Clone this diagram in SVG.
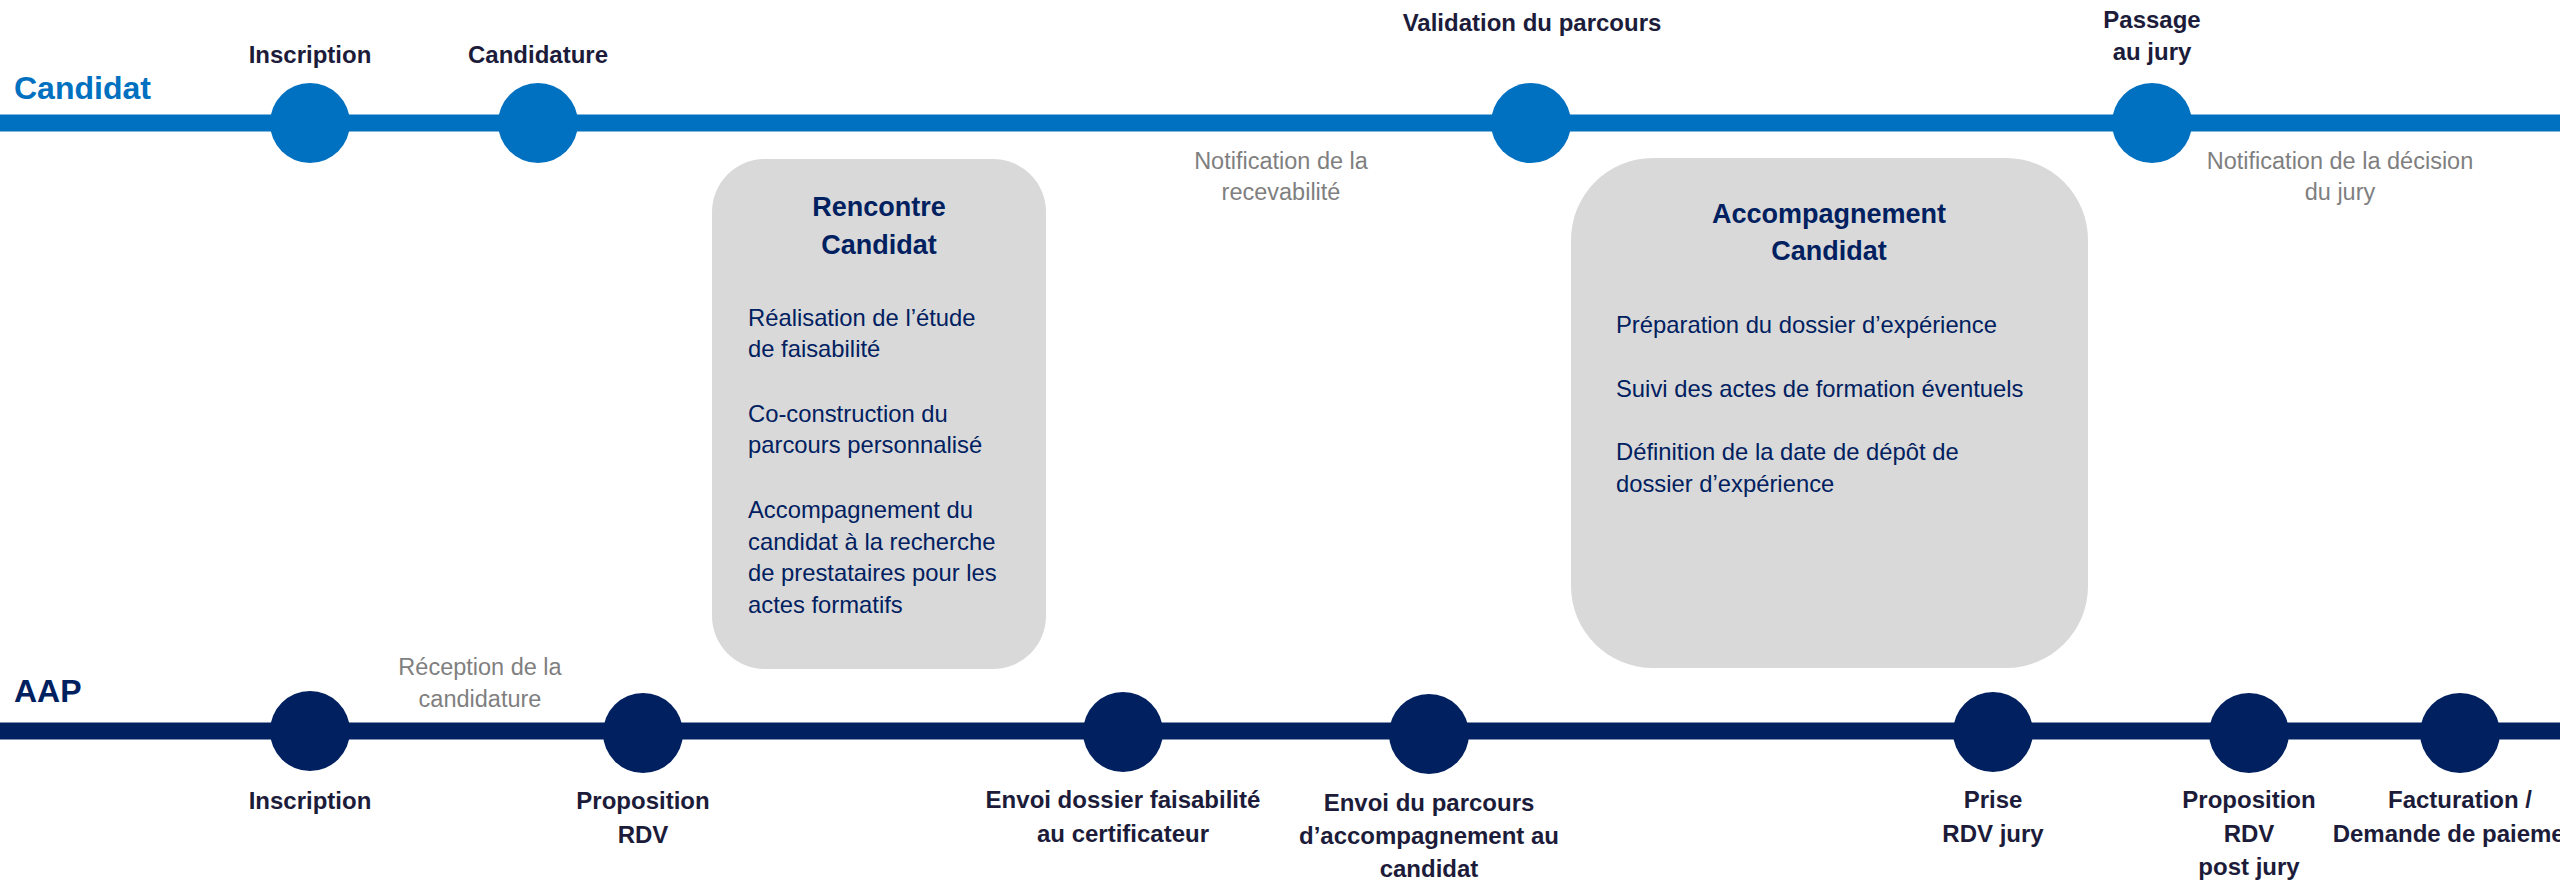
<svg xmlns="http://www.w3.org/2000/svg" width="2560" height="882" viewBox="0 0 2560 882">
<style>
  text { font-family: "Liberation Sans", Arial, sans-serif; }
  .lane { font-size: 32px; font-weight: bold; }
  .lbl { font-size: 24px; font-weight: bold; fill: #1c1c3a; text-anchor: middle; }
  .note { font-size: 23.5px; fill: #7f7f7f; text-anchor: middle; }
  .box { fill: #d9d9d9; }
  .btitle { font-size: 27px; font-weight: bold; fill: #002060; text-anchor: middle; }
  .body { font-size: 23.8px; fill: #002060; }
  .c1 { fill: #0070c0; }
  .c2 { fill: #002060; }
</style>
<rect width="2560" height="882" fill="#ffffff"/>

<g id="connectors">
  <line x1="0" y1="123" x2="2560" y2="123" stroke="#0070c0" stroke-width="17"/>
  <line x1="0" y1="731" x2="2560" y2="731" stroke="#002060" stroke-width="17"/>
</g>

<g id="lane-candidat"><text class="lane" x="14" y="99" fill="#0070c0">Candidat</text></g>
<g id="lane-aap"><text class="lane" x="14" y="702" fill="#002060">AAP</text></g>

<g id="c-inscription">
  <circle class="c1" cx="310" cy="123" r="40"/>
  <text class="lbl" x="310" y="63">Inscription</text>
</g>
<g id="c-candidature">
  <circle class="c1" cx="538" cy="123" r="40"/>
  <text class="lbl" x="538" y="63">Candidature</text>
</g>
<g id="c-validation">
  <circle class="c1" cx="1531" cy="123" r="40"/>
  <text class="lbl" x="1532" y="31">Validation du parcours</text>
</g>
<g id="c-jury">
  <circle class="c1" cx="2152" cy="123" r="40"/>
  <text class="lbl" x="2152" y="28">Passage</text>
  <text class="lbl" x="2152" y="60">au jury</text>
</g>

<g id="note-recevabilite">
  <text class="note" x="1281" y="169">Notification de la</text>
  <text class="note" x="1281" y="200">recevabilité</text>
</g>
<g id="note-decision">
  <text class="note" x="2340" y="169">Notification de la décision</text>
  <text class="note" x="2340" y="200">du jury</text>
</g>
<g id="note-reception">
  <text class="note" x="480" y="675">Réception de la</text>
  <text class="note" x="480" y="707">candidature</text>
</g>

<g id="box-rencontre">
  <rect class="box" x="712" y="159" width="334" height="510" rx="53" ry="53"/>
  <text class="btitle" x="879" y="216">Rencontre</text>
  <text class="btitle" x="879" y="254">Candidat</text>
  <text class="body" x="748" y="326">Réalisation de l’étude</text>
  <text class="body" x="748" y="357">de faisabilité</text>
  <text class="body" x="748" y="422">Co-construction du</text>
  <text class="body" x="748" y="453">parcours personnalisé</text>
  <text class="body" x="748" y="518">Accompagnement du</text>
  <text class="body" x="748" y="550">candidat à la recherche</text>
  <text class="body" x="748" y="581">de prestataires pour les</text>
  <text class="body" x="748" y="613">actes formatifs</text>
</g>

<g id="box-accompagnement">
  <rect class="box" x="1571" y="158" width="517" height="510" rx="82" ry="82"/>
  <text class="btitle" x="1829" y="223">Accompagnement</text>
  <text class="btitle" x="1829" y="260">Candidat</text>
  <text class="body" x="1616" y="333">Préparation du dossier d’expérience</text>
  <text class="body" x="1616" y="397">Suivi des actes de formation éventuels</text>
  <text class="body" x="1616" y="460">Définition de la date de dépôt de</text>
  <text class="body" x="1616" y="492">dossier d’expérience</text>
</g>

<g id="a-inscription">
  <circle class="c2" cx="310" cy="731" r="40"/>
  <text class="lbl" x="310" y="809">Inscription</text>
</g>
<g id="a-proposition-rdv">
  <circle class="c2" cx="643" cy="733" r="40"/>
  <text class="lbl" x="643" y="809">Proposition</text>
  <text class="lbl" x="643" y="843">RDV</text>
</g>
<g id="a-envoi-faisabilite">
  <circle class="c2" cx="1123" cy="732" r="40"/>
  <text class="lbl" x="1123" y="808">Envoi dossier faisabilité</text>
  <text class="lbl" x="1123" y="842">au certificateur</text>
</g>
<g id="a-envoi-parcours">
  <circle class="c2" cx="1429" cy="734" r="40"/>
  <text class="lbl" x="1429" y="811">Envoi du parcours</text>
  <text class="lbl" x="1429" y="844">d’accompagnement au</text>
  <text class="lbl" x="1429" y="877">candidat</text>
</g>
<g id="a-prise-rdv">
  <circle class="c2" cx="1993" cy="732" r="40"/>
  <text class="lbl" x="1993" y="808">Prise</text>
  <text class="lbl" x="1993" y="842">RDV jury</text>
</g>
<g id="a-post-jury">
  <circle class="c2" cx="2249" cy="733" r="40"/>
  <text class="lbl" x="2249" y="808">Proposition</text>
  <text class="lbl" x="2249" y="842">RDV</text>
  <text class="lbl" x="2249" y="875">post jury</text>
</g>
<g id="a-facturation">
  <circle class="c2" cx="2460" cy="733" r="40"/>
  <text class="lbl" x="2460" y="808">Facturation /</text>
  <text class="lbl" x="2460" y="842">Demande de paiement</text>
</g>
</svg>
